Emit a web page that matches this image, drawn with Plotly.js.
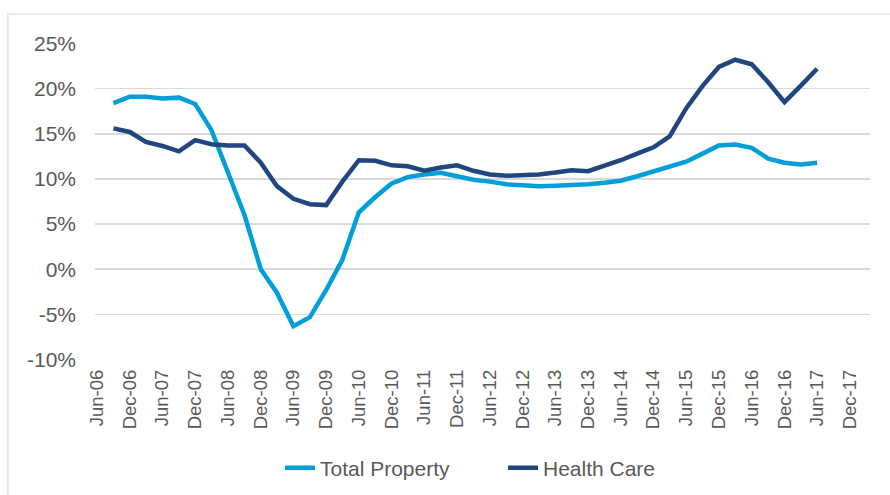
<!DOCTYPE html>
<html>
<head>
<meta charset="utf-8">
<script src="https://cdn.plot.ly/plotly-3.0.1.min.js"></script>
<style>html,body{margin:0;padding:0;background:#fff;}#chart{width:890px;height:495px;}</style>
</head>
<body>
<div id="chart"></div>
<script>
const quarters = ["2006-09-01","2006-12-01","2007-03-01","2007-06-01","2007-09-01","2007-12-01",
  "2008-03-01","2008-06-01","2008-09-01","2008-12-01","2009-03-01","2009-06-01","2009-09-01","2009-12-01",
  "2010-03-01","2010-06-01","2010-09-01","2010-12-01","2011-03-01","2011-06-01","2011-09-01","2011-12-01",
  "2012-03-01","2012-06-01","2012-09-01","2012-12-01","2013-03-01","2013-06-01","2013-09-01","2013-12-01",
  "2014-03-01","2014-06-01","2014-09-01","2014-12-01","2015-03-01","2015-06-01","2015-09-01","2015-12-01",
  "2016-03-01","2016-06-01","2016-09-01","2016-12-01","2017-03-01","2017-06-01"];

const totalProperty = [18.4,19.1,19.1,18.9,19.0,18.3,15.4,10.8,6.0,0.0,-2.6,-6.3,-5.3,-2.3,1.05,6.3,8.0,9.5,10.2,10.5,
  10.67,10.3,9.9,9.7,9.4,9.3,9.2,9.25,9.3,9.4,9.57,9.8,10.3,10.86,11.33,11.9,12.8,13.7,13.8,13.45,12.25,11.8,11.6,11.8];

const healthCare = [15.6,15.2,14.1,13.65,13.05,14.3,13.85,13.7,13.7,11.8,9.2,7.8,7.2,7.1,9.7,12.07,12.0,11.5,11.4,10.9,
  11.27,11.5,10.9,10.5,10.35,10.4,10.5,10.7,10.97,10.85,11.4,12.07,12.8,13.5,14.7,17.8,20.3,22.4,23.2,22.7,20.7,18.5,20.3,22.2];

const xTickVals = ["2006-06-01","2006-12-01","2007-06-01","2007-12-01","2008-06-01","2008-12-01","2009-06-01","2009-12-01",
  "2010-06-01","2010-12-01","2011-06-01","2011-12-01","2012-06-01","2012-12-01","2013-06-01","2013-12-01",
  "2014-06-01","2014-12-01","2015-06-01","2015-12-01","2016-06-01","2016-12-01","2017-06-01","2017-12-01"];
const xTickText = ["Jun-06","Dec-06","Jun-07","Dec-07","Jun-08","Dec-08","Jun-09","Dec-09","Jun-10","Dec-10","Jun-11","Dec-11",
  "Jun-12","Dec-12","Jun-13","Dec-13","Jun-14","Dec-14","Jun-15","Dec-15","Jun-16","Dec-16","Jun-17","Dec-17"];

const yTickVals = [-10,-5,0,5,10,15,20,25];
const yTickText = ["-10%","-5%","0%","5%","10%","15%","20%","25%"];

const traces = [
  {x: quarters, y: totalProperty, name: "Total Property", type: "scatter", mode: "lines",
   line: {color: "#009FDA", width: 4.5}},
  {x: quarters, y: healthCare, name: "Health Care", type: "scatter", mode: "lines",
   line: {color: "#1F467F", width: 4.5}}
];

const layout = {
  width: 890, height: 495,
  margin: {l: 95, r: 20, t: 43, b: 135, autoexpand: false},
  paper_bgcolor: "#ffffff", plot_bgcolor: "#ffffff",
  font: {family: "Liberation Sans, Arial, sans-serif", color: "#595959", size: 18},
  showlegend: true,
  legend: {orientation: "h", x: 0.2387, xanchor: "left", y: -0.341, yanchor: "middle",
           font: {size: 21, color: "#595959"}, entrywidth: 178, tracegroupgap: 0},
  xaxis: {type: "date", range: ["2006-05-21", "2018-03-23"], tickmode: "array",
          tickvals: xTickVals, ticktext: xTickText, tickangle: -90,
          showgrid: false, zeroline: false, showline: false, ticks: "", ticklabelstandoff: 5,
          tickfont: {size: 18.5, color: "#595959"}},
  yaxis: {range: [-10.05, 25.05], tickmode: "array", tickvals: yTickVals, ticktext: yTickText,
          showgrid: true, gridcolor: "#D9D9D9", gridwidth: 1.5, zeroline: false, showline: false,
          ticks: "", ticklabelstandoff: 18, tickfont: {size: 21, color: "#595959"}},
  shapes: [
    {type: "rect", xref: "paper", yref: "paper", x0: -0.1123, x1: 1.05, y0: -0.5, y1: 1.0915,
     line: {color: "#E3E3E3", width: 1.5}, fillcolor: "rgba(0,0,0,0)", layer: "below"}
  ]
};

Plotly.newPlot("chart", traces, layout, {displayModeBar: false, staticPlot: true});
</script>
</body>
</html>
